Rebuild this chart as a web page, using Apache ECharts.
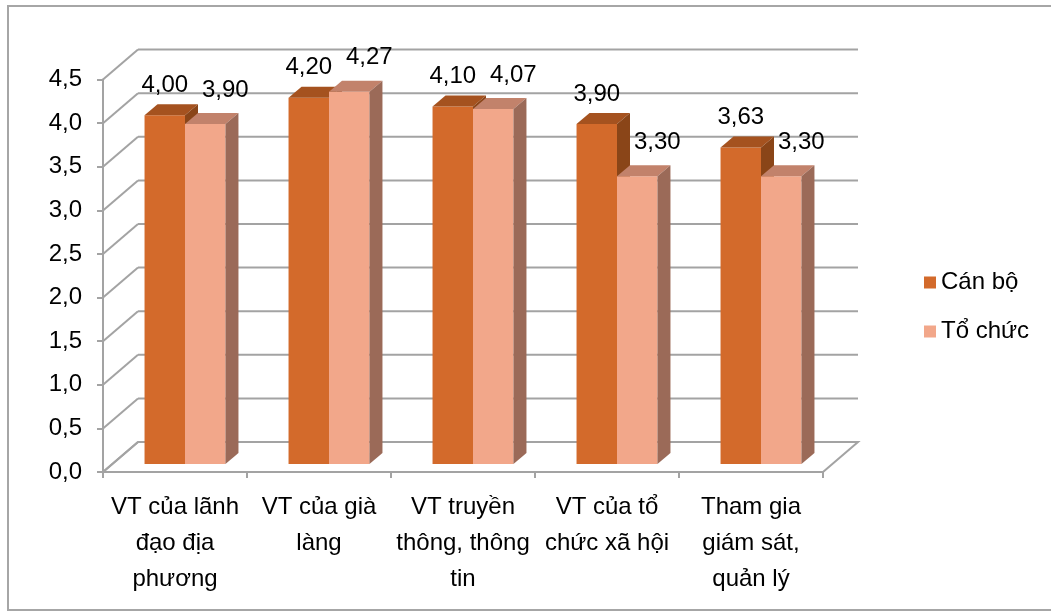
<!DOCTYPE html>
<html>
<head>
<meta charset="utf-8">
<script src="https://cdn.jsdelivr.net/npm/echarts@6/dist/echarts.min.js"></script>
<style>
  html, body { margin: 0; padding: 0; background: #fff; }
  #chart { width: 1051px; height: 612px; }
</style>
</head>
<body>
<div id="chart"></div>
<script>
// Categories, series values and value-axis ticks
const categories = [
  'VT của lãnh\nđạo địa\nphương',
  'VT của già\nlàng',
  'VT truyền\nthông, thông\ntin',
  'VT của tổ\nchức xã hội',
  'Tham gia\ngiám sát,\nquản lý'
];
const canBo = [4.00, 4.20, 4.10, 3.90, 3.63];
const toChuc = [3.90, 4.27, 4.07, 3.30, 3.30];
const yTicks = [0, 0.5, 1, 1.5, 2, 2.5, 3, 3.5, 4, 4.5];

const FONT = '"Liberation Sans", Arial, sans-serif';
const FONT_SIZE = 24;
const GRID_COLOR = '#A3A3A3';

// Depth of the 3D box (back wall offset) and of each column
const WALL_DX = 35, WALL_DY = -30;
const BAR_OFF_X = 10, BAR_OFF_Y = -8;
const BAR_DX = 13, BAR_DY = -11;
const BAR_RATIO = 0.281;

const fmt = v => Number(v).toFixed(2).replace('.', ',');

function wallRenderer(params, api) {
  const v = api.value(1);
  const band = api.size([1, 0])[0];
  const pL = api.coord([0, v]);
  const pR = api.coord([categories.length - 1, v]);
  const L = pL[0] - band / 2;
  const R = pR[0] + band / 2;
  const y = pL[1];
  const line = (x1, y1, x2, y2) => ({
    type: 'line',
    shape: { x1, y1, x2, y2 },
    style: { stroke: GRID_COLOR, lineWidth: 2 }
  });
  const children = [];
  if (v === 0) {
    children.push({
      type: 'polygon',
      shape: { points: [[L, y], [R, y], [R + WALL_DX, y + WALL_DY], [L + WALL_DX, y + WALL_DY]] },
      style: { fill: '#fff', stroke: GRID_COLOR, lineWidth: 2 }
    });
  }
  children.push(line(L, y, L + WALL_DX, y + WALL_DY));
  children.push(line(L + WALL_DX, y + WALL_DY, R + WALL_DX, y + WALL_DY));
  return { type: 'group', children };
}

function barRenderer(slot, colors, labelDx, labelDy) {
  return function (params, api) {
    const cat = api.value(0);
    const val = api.value(1);
    const base = api.coord([cat, 0]);
    const top = api.coord([cat, val]);
    const band = api.size([1, 0])[0];
    const w = band * BAR_RATIO;
    const x0 = base[0] + BAR_OFF_X + (slot === 0 ? -w : 0);
    const x1 = x0 + w;
    const yb = base[1] + BAR_OFF_Y;
    const yt = top[1] + BAR_OFF_Y;
    return {
      type: 'group',
      children: [
        {
          type: 'polygon',
          shape: { points: [[x0, yb], [x1, yb], [x1, yt], [x0, yt]] },
          style: { fill: colors.front }
        },
        {
          type: 'polygon',
          shape: { points: [[x0, yt], [x1, yt], [x1 + BAR_DX, yt + BAR_DY], [x0 + BAR_DX, yt + BAR_DY]] },
          style: { fill: colors.top }
        },
        {
          type: 'polygon',
          shape: { points: [[x1, yb], [x1 + BAR_DX, yb + BAR_DY], [x1 + BAR_DX, yt + BAR_DY], [x1, yt]] },
          style: { fill: colors.side }
        },
        {
          type: 'text',
          style: {
            text: fmt(val),
            x: (x0 + x1) / 2 + labelDx,
            y: yt + labelDy,
            align: 'center',
            verticalAlign: 'middle',
            fontSize: FONT_SIZE,
            fontFamily: FONT,
            fill: '#000'
          }
        }
      ]
    };
  };
}

const chart = echarts.init(document.getElementById('chart'), null, { renderer: 'canvas' });

chart.setOption({
  backgroundColor: '#fff',
  animation: false,
  graphic: [{
    type: 'rect',
    shape: { x: 8, y: 6, width: 1046, height: 604 },
    style: { fill: 'none', stroke: '#A6A6A6', lineWidth: 2 },
    z: 0
  }],
  legend: {
    orient: 'vertical',
    left: 924,
    top: 270,
    padding: 0,
    itemWidth: 12,
    itemHeight: 12,
    itemGap: 24,
    icon: 'rect',
    data: ['Cán bộ', 'Tổ chức'],
    textStyle: { fontSize: FONT_SIZE, fontFamily: FONT, color: '#000', lineHeight: 25 }
  },
  grid: { left: 103, right: 228, top: 79.6, bottom: 140 },
  xAxis: {
    type: 'category',
    data: categories,
    boundaryGap: true,
    axisLine: { show: true, lineStyle: { color: GRID_COLOR, width: 2 } },
    axisTick: { show: true, length: 6, lineStyle: { color: GRID_COLOR, width: 2 } },
    axisLabel: {
      interval: 0,
      margin: 17,
      fontSize: FONT_SIZE,
      lineHeight: 36,
      fontFamily: FONT,
      color: '#000',
      align: 'center'
    },
    splitLine: { show: false }
  },
  yAxis: {
    type: 'value',
    min: yTicks[0],
    max: yTicks[yTicks.length - 1],
    interval: 0.5,
    axisLine: { show: true, lineStyle: { color: GRID_COLOR, width: 2 } },
    axisTick: { show: true, length: 6, lineStyle: { color: GRID_COLOR, width: 2 } },
    axisLabel: {
      margin: 21,
      fontSize: FONT_SIZE,
      fontFamily: FONT,
      color: '#000',
      formatter: v => Number(v).toFixed(1).replace('.', ',')
    },
    splitLine: { show: false }
  },
  series: [
    {
      type: 'custom',
      name: 'wall',
      silent: true,
      z: 1,
      renderItem: wallRenderer,
      data: yTicks.map(v => [0, v]),
      encode: { x: 0, y: 1 }
    },
    {
      type: 'custom',
      name: 'Cán bộ',
      z: 3,
      itemStyle: { color: '#D36A2B' },
      renderItem: barRenderer(0, { front: '#D36A2B', top: '#A5521F', side: '#8A4518' }, 0, -30),
      data: canBo.map((v, i) => [i, v]),
      encode: { x: 0, y: 1 }
    },
    {
      type: 'custom',
      name: 'Tổ chức',
      z: 4,
      itemStyle: { color: '#F2A78A' },
      renderItem: barRenderer(1, { front: '#F2A78A', top: '#C2826B', side: '#9B6A58' }, 20, -34),
      data: toChuc.map((v, i) => [i, v]),
      encode: { x: 0, y: 1 }
    }
  ]
});
</script>
</body>
</html>
